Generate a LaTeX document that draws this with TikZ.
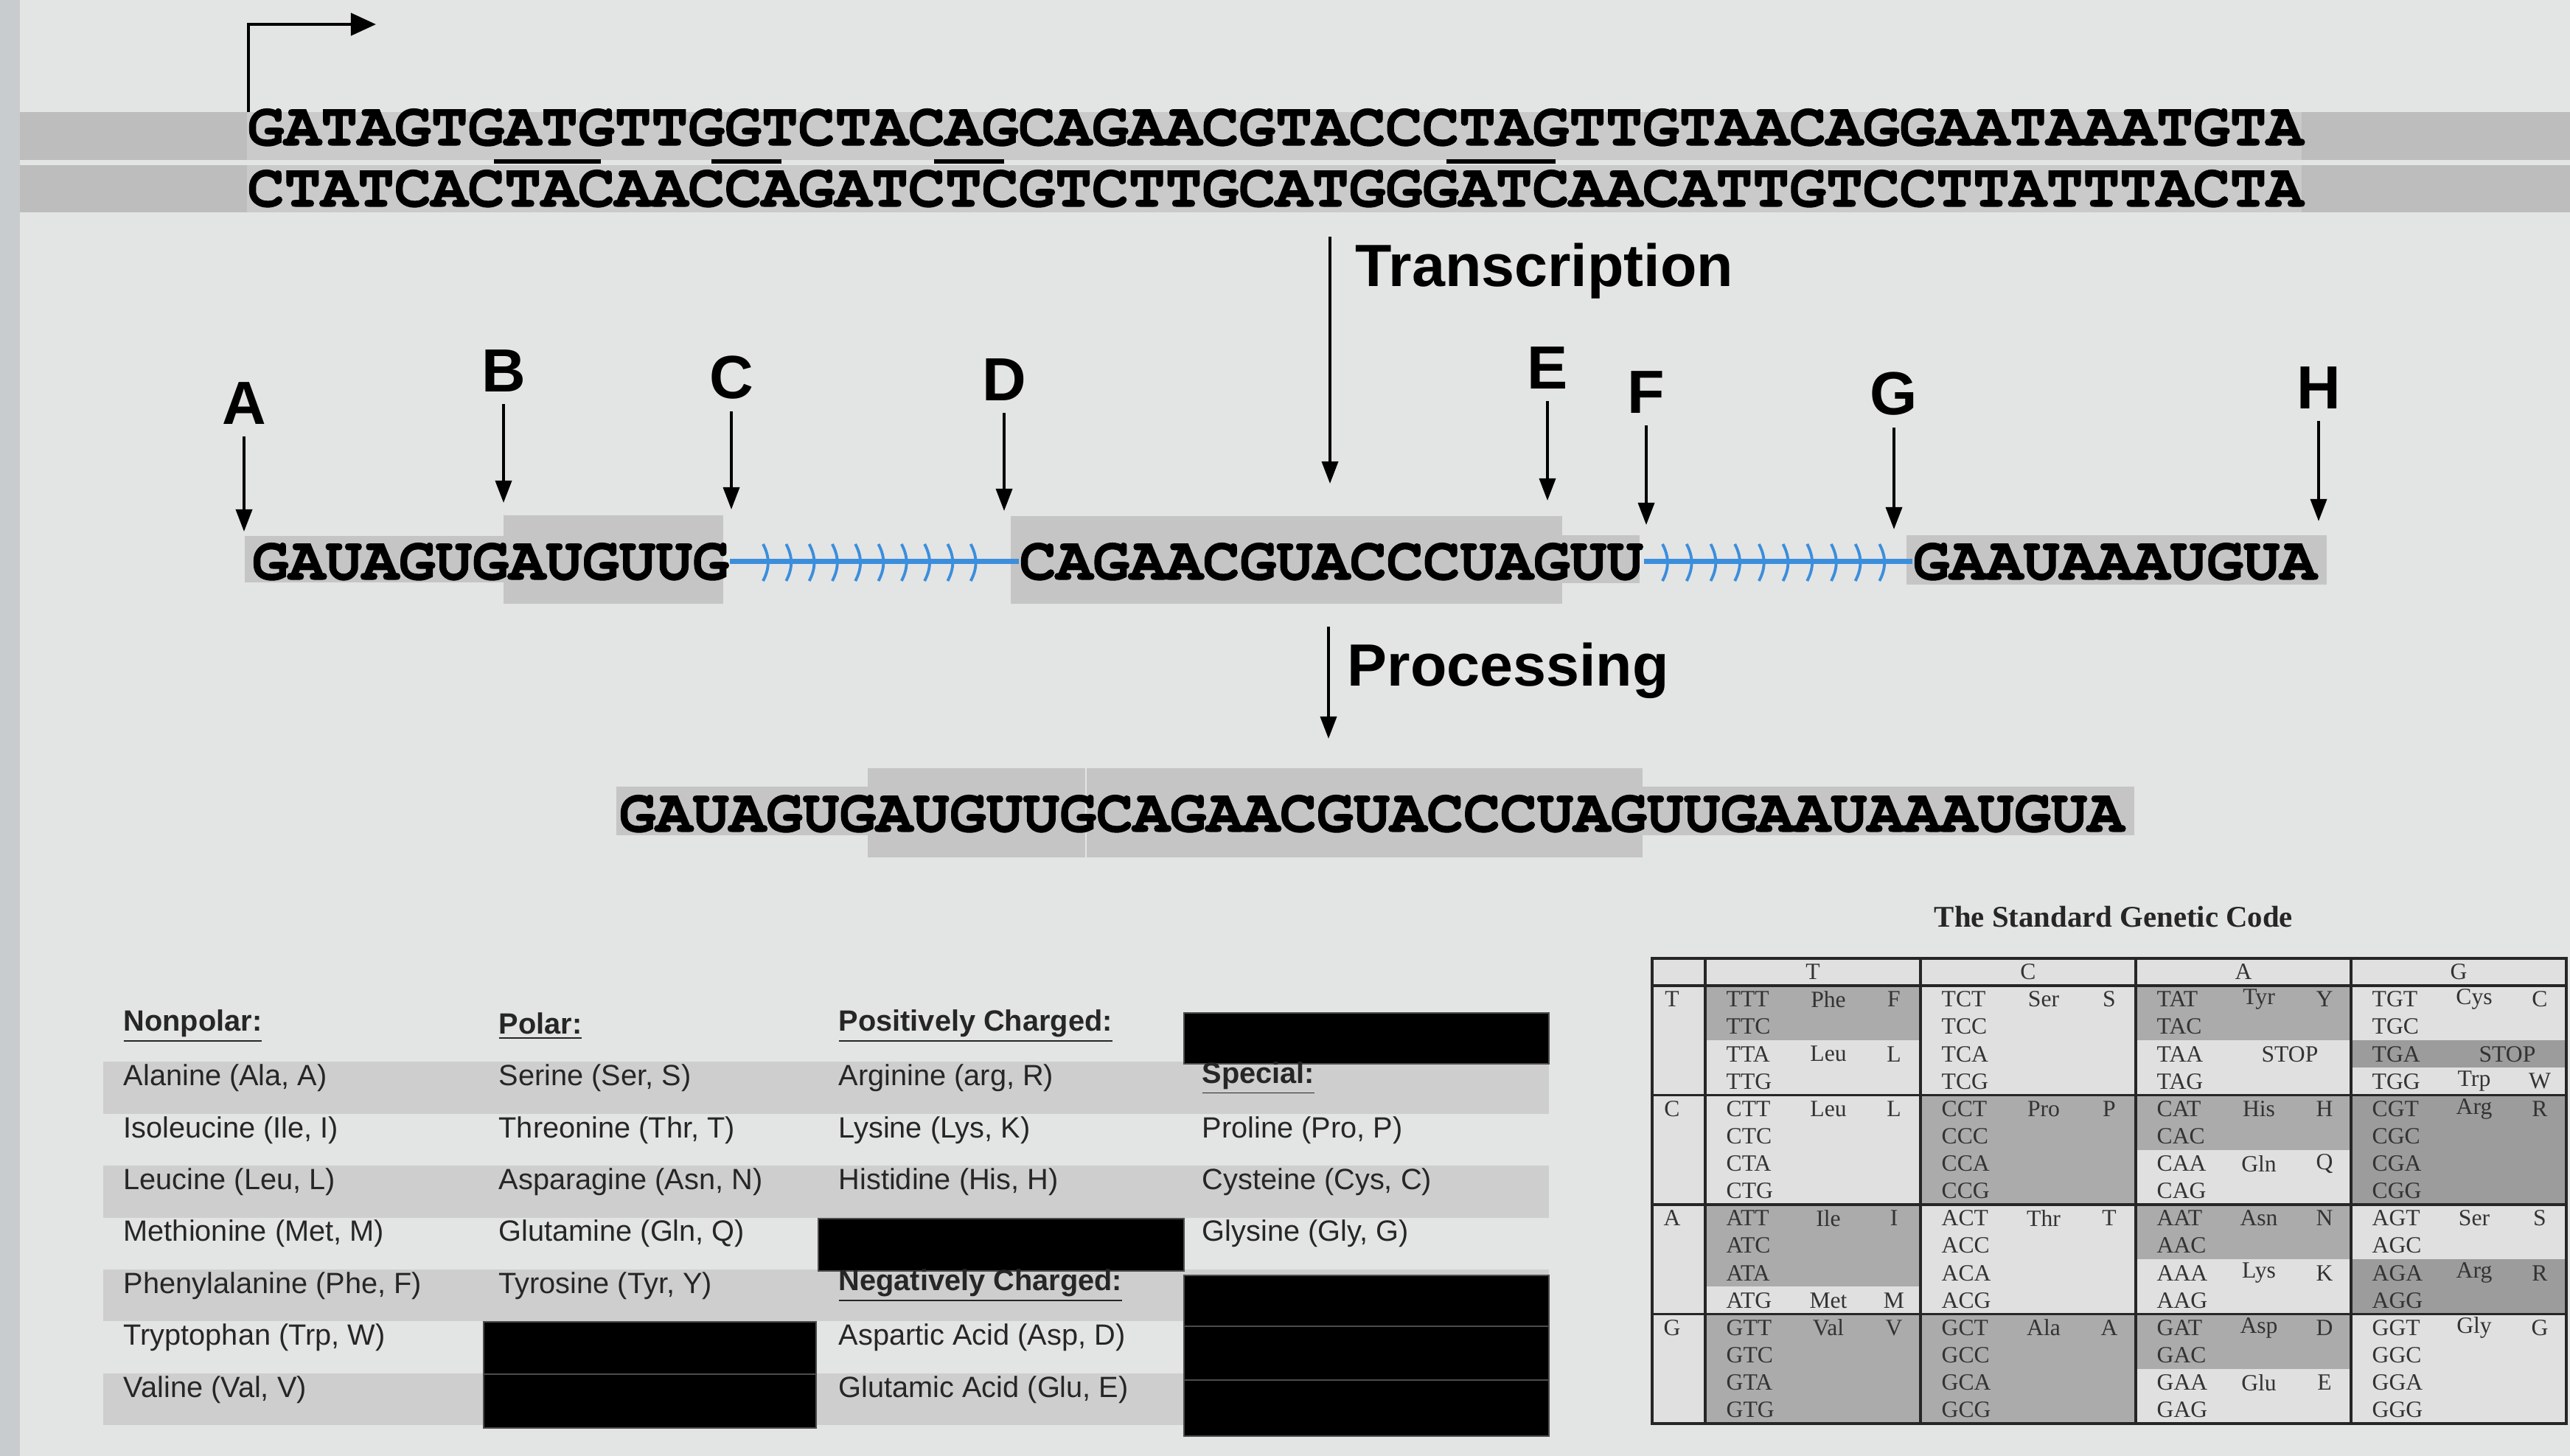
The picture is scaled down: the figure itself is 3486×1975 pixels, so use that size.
\documentclass[tikz,border=0pt]{standalone}
\usepackage{fontspec}
\setmainfont{Liberation Sans}
\newfontfamily\seqfont{TeX Gyre Cursor}[BoldFeatures={FakeBold=1.3}]
\newfontfamily\codefont{Liberation Serif}
\usetikzlibrary{arrows.meta,positioning,calc}

\definecolor{screen}{HTML}{E3E4E4}
\definecolor{bezel}{HTML}{C9CCCF}
\definecolor{strand}{HTML}{BDBDBD}
\definecolor{strandlit}{HTML}{CACACA}
\definecolor{exongray}{HTML}{C5C5C5}
\definecolor{zebra}{HTML}{CECECE}
\definecolor{intronblue}{HTML}{3B8EDC}
\definecolor{codeshade}{HTML}{ABABAB}
\definecolor{codedark}{HTML}{9C9C9C}
\definecolor{codelight}{HTML}{E0E0E0}

\tikzset{%
  dnatext/.style={font=\seqfont\bfseries\fontsize{23.6}{28}\selectfont,inner sep=0pt,anchor=base west},
  sitetag/.style={font=\bfseries\fontsize{23.5}{28}\selectfont,inner sep=0.16cm},
  steplabel/.style={font=\bfseries\fontsize{23}{28}\selectfont,inner sep=0pt,anchor=base west},
  siteline/.style={-{Triangle[length=0.3cm,width=0.22cm]},line width=1pt},
  intronline/.style={intronblue,line width=2pt},
  intronbar/.style={intronblue,line width=1.1pt},
  aatext/.style={font=\fontsize{11.3}{13}\selectfont,text=black!85,inner sep=0pt,anchor=west},
  blackout/.style={fill=black,draw=black!70,line width=0.6pt},
  codon/.style={font=\codefont\fontsize{9}{10}\selectfont,text=black!80,inner sep=0pt},
  codegrid/.style={line width=1pt,draw=black!85}%
}

\begin{document}
\begin{tikzpicture}[x=0.01cm,y=-0.01cm]
\useasboundingbox (0,0) rectangle (3486,1975);
\fill[screen] (0,0) rectangle (3486,1975);
\fill[bezel] (0,0) rectangle (27,1975);

% DNA double strand
\fill[strand] (27,152) rectangle (3486,217);
\fill[strand] (27,224) rectangle (3486,288);
\fill[strandlit] (335,152) rectangle (3122,217);
\fill[strandlit] (335,224) rectangle (3122,288);
\node[dnatext] (coding) at (335,197) {GATAGTGATGTTGGTCTACAGCAGAACGTACCCTAGTTGTAACAGGAATAAATGTA};
\node[dnatext] (template) at (335,280) {CTATCACTACAACCAGATCTCGTCTTGCATGGGATCAACATTGTCCTTATTTACTA};
\foreach \xa/\xb in {670/815,965/1060,1267/1362,1962/2110}
  \draw[line width=1.7pt] (\xa,219) -- (\xb,219);

% start of transcription
\coordinate (tss) at (337,152);
\coordinate (tssTip) at (510,33);
\draw[line width=1.3pt,-{Triangle[length=0.34cm,width=0.3cm]}] (tss) |- (tssTip);

% Transcription step
\coordinate (trFrom) at (1804,321);
\coordinate (trTo) at (1804,656);
\draw[siteline] (trFrom) -- (trTo);
\node[steplabel] (trLabel) at (1838,388) {Transcription};

% pre-mRNA
\fill[exongray] (332,727) rectangle (683,790);
\fill[exongray] (683,699) rectangle (981,819);
\fill[exongray] (1371,700) rectangle (2119,819);
\fill[exongray] (2119,726) rectangle (2224,791);
\fill[exongray] (2586,726) rectangle (3156,793);
\node[dnatext] (exon1) at (341,786) {GAUAGUGAUGUUG};
\node[dnatext] (exon2) at (1382,786) {CAGAACGUACCCUAGUU};
\node[dnatext] (exon3) at (2594,786) {GAAUAAAUGUA};

\draw[intronline] (exon1.east) -- (exon2.west);
\draw[intronline] (exon2.east) -- (exon3.west);
\foreach \i in {0,...,9} {
  \draw[intronbar] ({1035+31.3*\i},738) to[bend left=28] ({1035+31.3*\i},788);
  \draw[intronbar] ({2255+32.7*\i},738) to[bend left=28] ({2255+32.7*\i},788);
}

% sites A to H
\foreach \lab/\x/\y/\tip in {A/331/547/721,B/683/503/682,C/992/512/691,D/1362/515/693,
    E/2099/499/679,F/2233/532/712,G/2569/534/718,H/3145/526/707} {
  \node[sitetag] (site\lab) at (\x,\y) {\lab};
  \coordinate (tip\lab) at (\x,\tip);
  \draw[siteline] (site\lab) -- (tip\lab);
}

% Processing step
\coordinate (prFrom) at (1802,850);
\coordinate (prTo) at (1802,1002);
\draw[siteline] (prFrom) -- (prTo);
\node[steplabel] (prLabel) at (1827,930) {Processing};

% mature mRNA
\fill[exongray] (836,1067) rectangle (2895,1133);
\fill[exongray] (1177,1042) rectangle (2228,1163);
\draw[white!55!exongray,line width=0.8pt] (1473,1042) -- (1473,1163);
\node[dnatext] (mature) at (839,1128) {GAUAGUGAUGUUGCAGAACGUACCCUAGUUGAAUAAAUGUA};

% amino acid groups
\foreach \r in {1,3,5,7}
  \fill[zebra] (140,{1370+70.4*\r}) rectangle (2101,{1370+70.4*(\r+1)});
\path[blackout] (1606,1374) rectangle (2101,1443);
\path[blackout] (1110,1653) rectangle (1606,1724);
\path[blackout] (656,1793) rectangle (1107,1864);
\path[blackout] (656,1864) rectangle (1107,1937);
\path[blackout] (1606,1730) rectangle (2101,1799);
\path[blackout] (1606,1799) rectangle (2101,1872);
\path[blackout] (1606,1872) rectangle (2101,1948);

\node[aatext] (nonpolar) at (167,1392) {\bfseries\underline{Nonpolar:}};
\foreach \r/\txt in {1/{Alanine (Ala, A)},2/{Isoleucine (Ile, I)},3/{Leucine (Leu, L)},
    4/{Methionine (Met, M)},5/{Phenylalanine (Phe, F)},6/{Tryptophan (Trp, W)},7/{Valine (Val, V)}}
  \node[aatext] (np\r) at (167,{1392+70.4*\r}) {\txt};

\node[aatext] (polar) at (676,1392) {\bfseries\underline{Polar:}};
\foreach \r/\txt in {1/{Serine (Ser, S)},2/{Threonine (Thr, T)},3/{Asparagine (Asn, N)},
    4/{Glutamine (Gln, Q)},5/{Tyrosine (Tyr, Y)}}
  \node[aatext] (po\r) at (676,{1392+70.4*\r}) {\txt};

\node[aatext] (positive) at (1137,1392) {\bfseries\underline{Positively Charged:}};
\foreach \r/\txt in {1/{Arginine (arg, R)},2/{Lysine (Lys, K)},3/{Histidine (His, H)}}
  \node[aatext] (pc\r) at (1137,{1392+70.4*\r}) {\txt};
\node[aatext] (negative) at (1137,{1392+70.4*5}) {\bfseries\underline{Negatively Charged:}};
\foreach \r/\txt in {6/{Aspartic Acid (Asp, D)},7/{Glutamic Acid (Glu, E)}}
  \node[aatext] (nc\r) at (1137,{1392+70.4*\r}) {\txt};

\node[aatext] (special) at (1630,{1392+70.4}) {\bfseries\underline{Special:}};
\foreach \r/\txt in {2/{Proline (Pro, P)},3/{Cysteine (Cys, C)},4/{Glysine (Gly, G)}}
  \node[aatext] (sp\r) at (1630,{1392+70.4*\r}) {\txt};

% genetic code table
\node[font=\codefont\bfseries\fontsize{11.6}{14}\selectfont,text=black!85] (codeTitle) at (2867,1244) {The Standard Genetic Code};
\fill[codelight] (2241,1300) rectangle (3481,1931);
\foreach \b/\c/\s/\n/\col in {0/0/0/2/codeshade,0/2/0/2/codeshade,0/3/2/1/codedark,
    1/1/0/4/codeshade,1/2/0/2/codeshade,1/3/0/4/codedark,
    2/0/0/3/codeshade,2/2/0/2/codeshade,2/3/2/2/codedark,
    3/0/0/4/codeshade,3/1/0/4/codeshade,3/2/0/2/codeshade}
  \fill[\col] ({2313+292*\c},{1337+148.5*\b+37.1*\s}) rectangle ({2313+292*(\c+1)},{1337+148.5*\b+37.1*(\s+\n)});

\draw[codegrid] (2241,1300) rectangle (3481,1931);
\foreach \x in {2313,2605,2897,3189}
  \draw[codegrid] (\x,1300) -- (\x,1931);
\foreach \y in {1337,1485.5,1634,1782.5}
  \draw[codegrid] (2241,\y) -- (3481,\y);

\foreach \c/\l in {0/T,1/C,2/A,3/G} {
  \node[codon] (colhead\l) at ({2313+292*\c+146},1318.5) {\l};
  \node[codon] (rowhead\l) at (2268,{1355.5+148.5*\c}) {\l};
}
\foreach \b/\bl in {0/T,1/C,2/A,3/G}
  \foreach \c/\cl in {0/T,1/C,2/A,3/G}
    \foreach \s/\sl in {0/T,1/C,2/A,3/G}
      \node[codon,anchor=west] (cd\bl\cl\sl) at ({2313+292*\c+28},{1355.5+148.5*\b+37.1*\s}) {\bl\cl\sl};

\foreach \b/\c/\s/\tri/\one in {0/0/0/Phe/F,0/0/2/Leu/L,0/1/0/Ser/S,0/2/0/Tyr/Y,0/3/0/Cys/C,0/3/3/Trp/W,
    1/0/0/Leu/L,1/1/0/Pro/P,1/2/0/His/H,1/2/2/Gln/Q,1/3/0/Arg/R,
    2/0/0/Ile/I,2/0/3/Met/M,2/1/0/Thr/T,2/2/0/Asn/N,2/2/2/Lys/K,2/3/0/Ser/S,2/3/2/Arg/R,
    3/0/0/Val/V,3/1/0/Ala/A,3/2/0/Asp/D,3/2/2/Glu/E,3/3/0/Gly/G} {
  \node[codon] (aa\b\c\s) at ({2313+292*\c+167},{1355.5+148.5*\b+37.1*\s}) {\tri};
  \node[codon] (ab\b\c\s) at ({2313+292*\c+256},{1355.5+148.5*\b+37.1*\s}) {\one};
}
\node[codon] (stopTAA) at ({2313+292*2+209},{1355.5+37.1*2}) {STOP};
\node[codon] (stopTGA) at ({2313+292*3+212},{1355.5+37.1*2}) {STOP};

\end{tikzpicture}
\end{document}
